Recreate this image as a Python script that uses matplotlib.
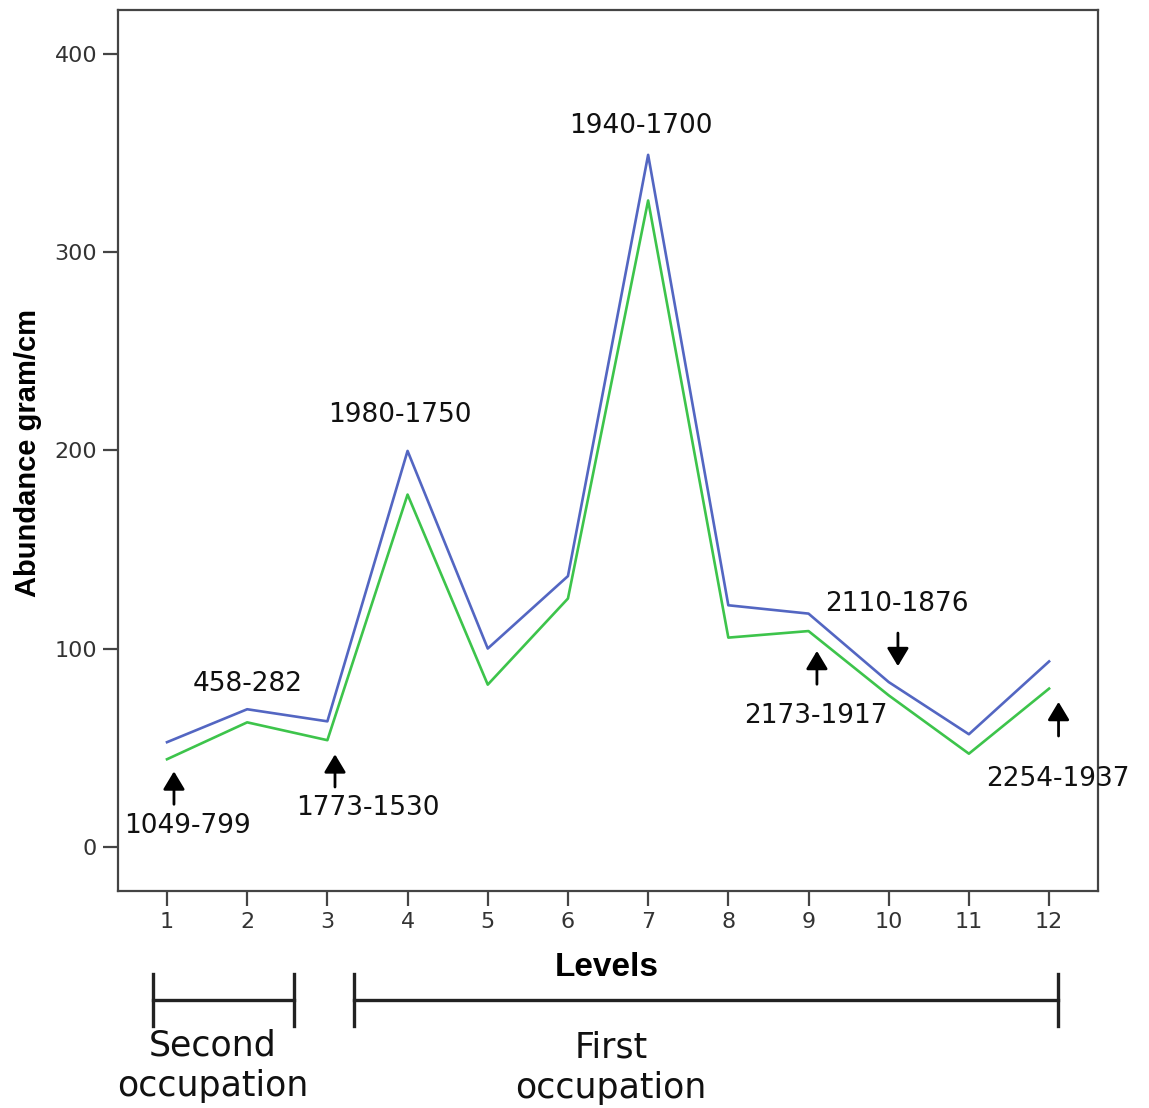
import numpy as np
import matplotlib
matplotlib.use("Agg")
import matplotlib.pyplot as plt
from matplotlib.lines import Line2D

# data
levels = np.arange(1, 13)
blue_vals = [53, 69.6, 63.5, 199.8, 100.2, 136.7, 349, 122, 117.8, 83.3, 57, 93.7]
green_vals = [44.4, 63, 54, 177.8, 82, 125.4, 326, 105.7, 109, 76.6, 47.2, 80]
yticks = [0, 100, 200, 300, 400]

# date labels (text, x, y) and arrows (x, tail y, tip y)
date_labels = [("1049-799", 1.25, 10.6), ("458-282", 2.01, 82.2),
               ("1773-1530", 3.51, 19.7), ("1980-1750", 3.905, 217.8),
               ("1940-1700", 6.91, 363.6), ("2110-1876", 10.1, 122.5),
               ("2173-1917", 9.09, 66.0), ("2254-1937", 12.11, 34.3)]
arrows = [(1.087, 21.7, 38.3), (3.095, 30.4, 46.9), (9.105, 82.2, 99.0),
          (10.115, 108.0, 91.3), (12.118, 56.1, 73.3)]

W, H = 1149, 1108
fig = plt.figure(figsize=(W / 100, H / 100), dpi=100)
ax = fig.add_axes([118 / W, 1 - 891 / H, (1098 - 118) / W, (891 - 10) / H])

ax.plot(levels, blue_vals, color="#5366C2", lw=1.9)
ax.plot(levels, green_vals, color="#3DC44B", lw=1.9)

ax.set_xlim(0.389, 12.61)
ax.set_ylim(-22, 422)
ax.set_xticks(levels)
ax.set_yticks(yticks)
ax.tick_params(direction="out", length=11, width=1.6, color="#444444",
               labelsize=16, labelcolor="#333333", pad=4)
for s in ax.spines.values():
    s.set_color("#444444")
    s.set_linewidth(1.6)

ax.set_ylabel("Abundance gram/cm", fontsize=21, fontweight="bold",
              family="Liberation Sans")
ax.yaxis.set_label_coords(-0.078, 0.497)

for txt, x, y in date_labels:
    ax.text(x, y, txt, fontsize=19, ha="center", va="center", color="#111111")

for x, y0, y1 in arrows:
    ax.annotate("", xy=(x, y1), xytext=(x, y0),
                arrowprops=dict(arrowstyle="-|>,head_width=0.3,head_length=0.5",
                                color="black", lw=2, mutation_scale=22,
                                shrinkA=0, shrinkB=0))

# below the axis: "Levels" and the occupation brackets
fig.text(607 / W, 1 - 968 / H, "Levels", fontsize=24, fontweight="bold",
         family="Liberation Sans", ha="center", va="center")

def bracket(x0, x1, y=1000, half=26):
    yf = 1 - y / H
    for xx in (x0, x1):
        fig.add_artist(Line2D([xx / W, xx / W], [1 - (y - half) / H, 1 - (y + half) / H],
                              color="#222222", lw=2.4))
    fig.add_artist(Line2D([x0 / W, x1 / W], [yf, yf], color="#222222", lw=2.4))

bracket(153, 294)
bracket(354, 1058)

fig.text(213 / W, 1 - 1066 / H, "Second\noccupation", fontsize=25, ha="center",
         va="center", linespacing=1.25, color="#111111")
fig.text(611 / W, 1 - 1068 / H, "First\noccupation", fontsize=25, ha="center",
         va="center", linespacing=1.25, color="#111111")

fig.savefig("out.png", dpi=100)
